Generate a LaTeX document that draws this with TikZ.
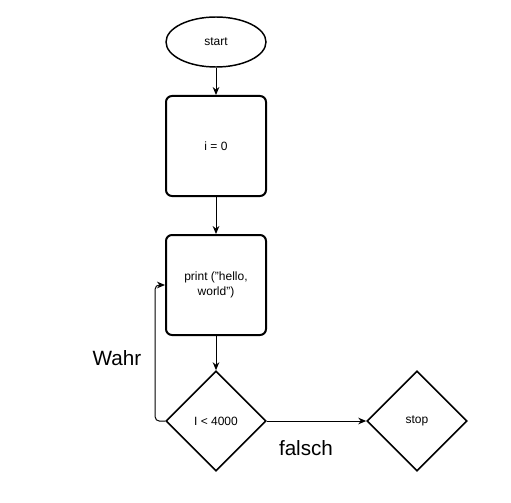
\documentclass[tikz,border=0pt]{standalone}
\usepackage{fontspec}
\setmainfont{Liberation Sans}
\usetikzlibrary{arrows.meta, positioning, shapes.geometric}

\begin{document}
\begin{tikzpicture}[
      x=0.75pt,y=-0.75pt,
      node distance=78pt,on grid,>={Stealth[length=6pt,width=5pt]},
      every node/.style={font=\fontsize{9}{11}\selectfont},
      terminal/.style={draw,ellipse,line width=1.1pt,minimum width=75pt,minimum height=37.5pt},
      process/.style={draw,line width=1.5pt,rounded corners=4.5pt,minimum size=75pt,align=center},
      decision/.style={draw,diamond,line width=1.2pt,minimum width=75pt,minimum height=75pt,inner sep=0pt},
      branch/.style={font=\fontsize{15.5}{18}\selectfont},
      flow/.style={->,line width=0.75pt},
      ]
      \useasboundingbox (0,0) rectangle (511,503);

      \node[terminal]                (start)  at (216,42)            {start};
      \node[process]                 (init)  [below=78pt of start]   {i = 0};
      \node[process]                 (print) [below=104.25pt of init] {print ("hello,\\world")};
      \node[decision]                (cond)  [below=102pt of print]  {I < 4000};
      \node[decision]                (stop)  [right=150.75pt of cond] {stop};
      \node[branch]                  (wahr)   at (117,358)           {Wahr};
      \node[branch]                  (falsch) at (306,448)           {falsch};

      \draw[flow] (start) -- (init);
      \draw[flow] (init) -- (print);
      \draw[flow] (print) -- (cond);
      \draw[flow] (cond) -- (stop);
      \draw[flow,rounded corners=3pt] (cond.west) -- ++(-7.5pt,0) |- (print.west);
    \end{tikzpicture}
\end{document}
